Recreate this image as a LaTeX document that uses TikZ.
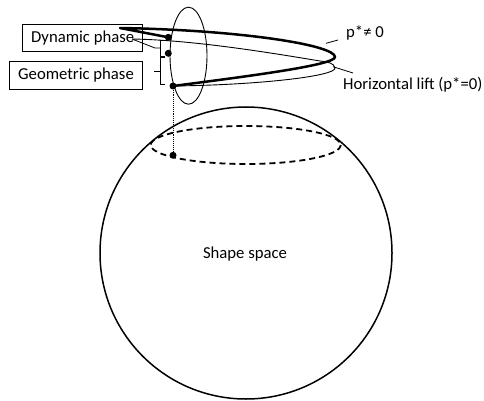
\documentclass[tikz,border=0pt]{standalone}
\usepackage{fontspec}
\setmainfont{Carlito}

\begin{document}
\begin{tikzpicture}[x=1pt,y=-1pt,
  font=\fontsize{16.7}{20}\selectfont,
  box/.style={draw,line width=0.8pt,inner sep=0pt,minimum height=27.6pt},
  lift/.style={line width=0.9pt},
  loopline/.style={line width=2.5pt,line join=round},
  lead/.style={line width=0.8pt},
  dot/.style={fill,circle,inner sep=0pt,minimum size=7pt}
]
\useasboundingbox (0,0) rectangle (484,401);
% shape space
\draw[line width=1.5pt] (246,253) circle[radius=146];
\node (shape) at (245,254) {Shape space};
\draw[line width=1.8pt,dash pattern=on 6pt off 4pt] (245.7,145) ellipse[x radius=95,y radius=19];
% fibre
\draw[line width=0.9pt] (188.5,55.7) ellipse[x radius=18.5,y radius=48.5];
% labels
\node[box,minimum width=120pt] (dyn) at (82.7,37.8) {Dynamic phase};
\node[box,minimum width=133.4pt] (geo) at (76,75.5) {Geometric phase};
\node[anchor=west,inner sep=0pt] (pstar) at (346,32.5) {p*≠ 0};
\node[anchor=west,inner sep=0pt] (hlift) at (343,85) {Horizontal lift (p*=0)};
% points
\coordinate (top) at (168.3,37.3);
\coordinate (mid) at (168.3,53.3);
\coordinate (bot) at (173,86);
\coordinate (base) at (173,155.3);
\coordinate (liftend) at (132,39);
\draw[densely dotted,line width=0.9pt] (bot) -- (base);
% loops
\draw[loopline] (bot) .. controls (250,76) and (335,65) .. (335,57)
  .. controls (335,45) and (240,30) .. (120,28) -- (top);
\draw[lift] (bot) .. controls (260,85) and (336,76) .. (335,68)
  .. controls (334,63) and (328,62) .. (320,61)
  .. controls (260,51) and (190,40) .. (liftend);
% brackets
\draw[lead] (165,40) -| (160,56.7) -- (165,56.7);
\draw[lead] (liftend) -- (155,48) -- (160,48);
\draw[lead] (165,57.5) -| (160,84.5) -- (165,84.5);
\draw[lead] (160,71.5) -- (154,71.5);
% leaders
\draw[lead] (326,43.3) -- (338,40);
\draw[lead] (333,66.7) -- (353,73);
\foreach \p in {top,mid,bot,base} \node[dot] at (\p) {};
\end{tikzpicture}
\end{document}
